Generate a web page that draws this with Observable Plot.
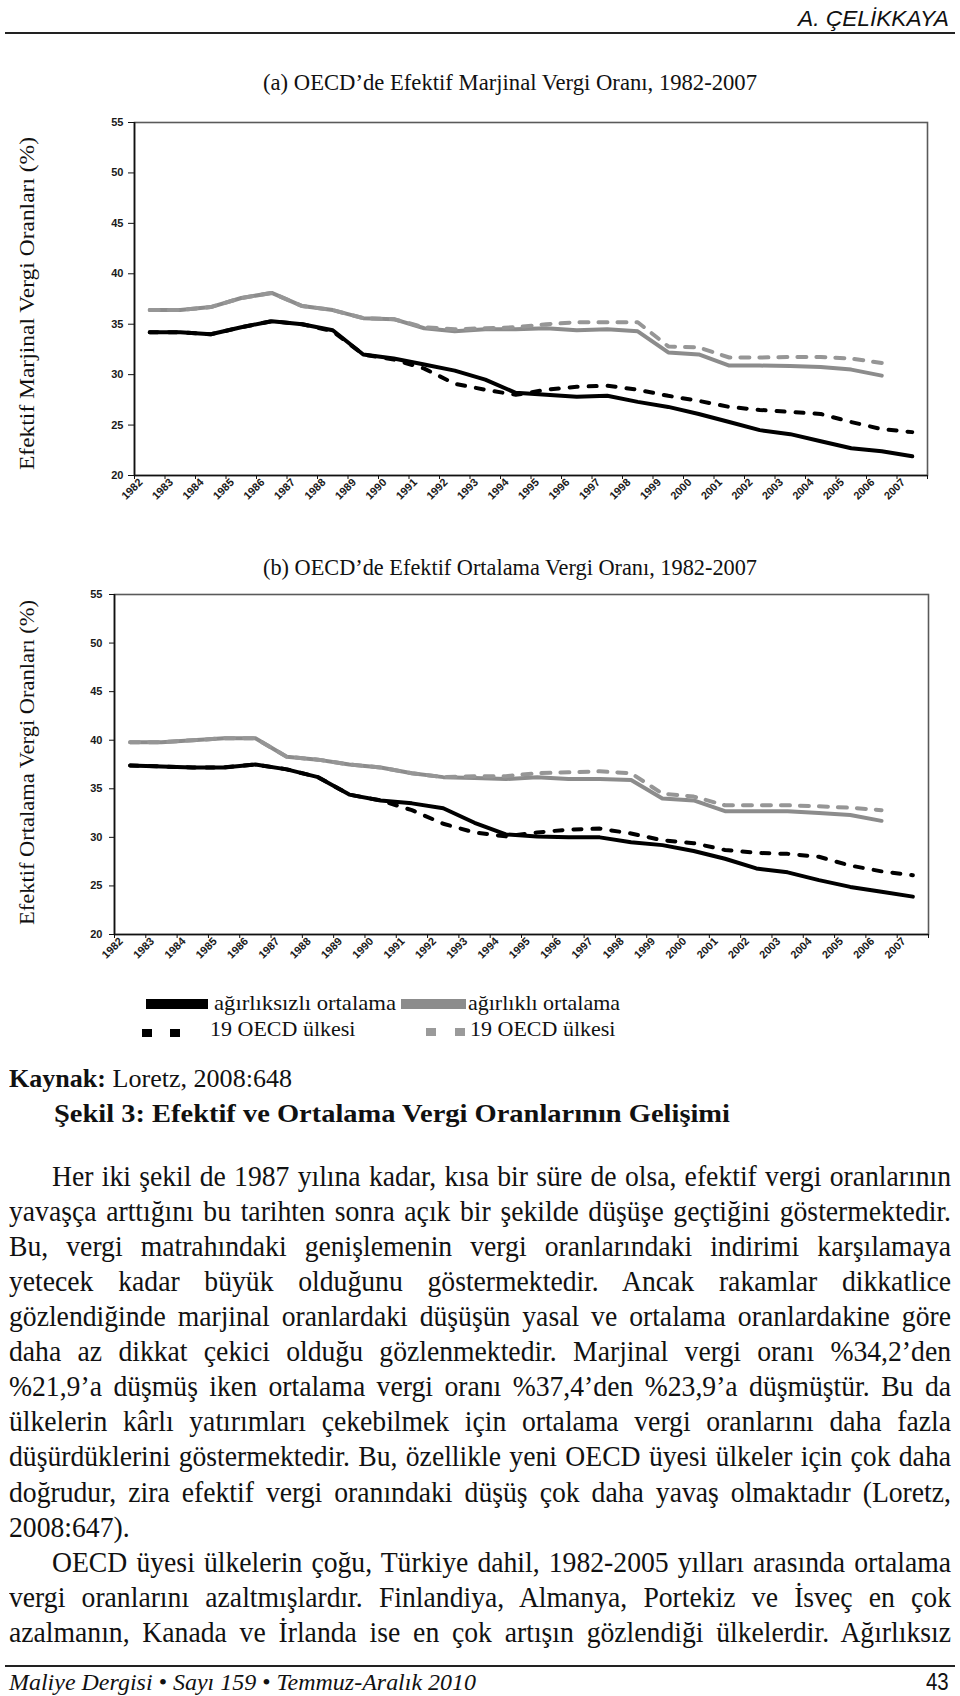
<!DOCTYPE html>
<html><head><meta charset="utf-8">
<script src="https://cdn.jsdelivr.net/npm/d3@7"></script>
<script src="https://cdn.jsdelivr.net/npm/@observablehq/plot@0.6"></script>
<style>
html,body{margin:0;padding:0;background:#fff;}
#page{position:relative;width:960px;height:1696px;overflow:hidden;background:#fff;}
.t{position:absolute;white-space:nowrap;line-height:1;transform-origin:0 0;color:#111;}
.box{position:absolute;}
.chart{position:absolute;left:0;}
</style></head><body><div id="page"></div><script>
// ---------- data ----------
const years = [1982,1983,1984,1985,1986,1987,1988,1989,1990,1991,1992,1993,1994,1995,1996,1997,1998,1999,2000,2001,2002,2003,2004,2005,2006,2007];
const yTicks = [20,25,30,35,40,45,50,55];

// (a) Efektif marjinal vergi oranı
const marjinalAgirliksiz   = [34.2,34.2,34.0,34.7,35.3,35.0,34.4,32.0,31.6,31.0,30.4,29.5,28.2,28.0,27.8,27.9,27.3,26.8,26.1,25.3,24.5,24.1,23.4,22.7,22.4,21.9];
const marjinal19Agirliksiz = [34.2,34.2,34.0,34.7,35.3,35.0,34.3,32.0,31.5,30.6,29.1,28.5,28.0,28.5,28.8,28.9,28.5,27.9,27.4,26.8,26.5,26.3,26.1,25.3,24.6,24.3];
const marjinalAgirlikli    = [36.4,36.4,36.7,37.6,38.1,36.8,36.4,35.6,35.5,34.6,34.3,34.5,34.5,34.6,34.4,34.5,34.3,32.2,32.0,30.9,30.9,30.85,30.75,30.5,29.9];
const marjinal19Agirlikli  = [36.4,36.4,36.7,37.6,38.1,36.8,36.4,35.6,35.5,34.7,34.5,34.6,34.7,35.0,35.2,35.2,35.2,32.8,32.7,31.7,31.7,31.75,31.75,31.6,31.15];

// (b) Efektif ortalama vergi oranı
const ortalamaAgirliksiz   = [37.4,37.3,37.2,37.2,37.5,37.0,36.2,34.4,33.8,33.5,33.0,31.5,30.3,30.1,30.0,30.0,29.5,29.2,28.6,27.8,26.8,26.4,25.6,24.9,24.4,23.9];
const ortalama19Agirliksiz = [37.4,37.3,37.2,37.2,37.5,37.0,36.2,34.4,33.8,32.8,31.4,30.5,30.1,30.5,30.8,30.9,30.4,29.7,29.4,28.7,28.4,28.3,28.0,27.1,26.5,26.1];
const ortalamaAgirlikli    = [39.8,39.8,40.0,40.2,40.2,38.3,38.0,37.5,37.2,36.6,36.2,36.1,36.0,36.2,36.0,36.0,35.9,34.0,33.8,32.7,32.7,32.7,32.5,32.3,31.7];
const ortalama19Agirlikli  = [39.8,39.8,40.0,40.2,40.2,38.3,38.0,37.5,37.2,36.6,36.2,36.3,36.3,36.6,36.7,36.8,36.6,34.5,34.2,33.3,33.3,33.3,33.2,33.05,32.8];

// ---------- texts ----------
const headerText = "A. ÇELİKKAYA";
const titleA = "(a) OECD’de Efektif Marjinal Vergi Oranı, 1982-2007";
const titleB = "(b) OECD’de Efektif Ortalama Vergi Oranı, 1982-2007";
const yTitleA = "Efektif Marjinal Vergi Oranları (%)";
const yTitleB = "Efektif Ortalama Vergi Oranları (%)";
const legendLabels = ["ağırlıksızlı ortalama", "ağırlıklı ortalama", "19 OECD ülkesi", "19 OECD ülkesi"];
const sourceBold = "Kaynak:";
const sourceText = " Loretz, 2008:648";
const figureCaption = "Şekil 3: Efektif ve Ortalama Vergi Oranlarının Gelişimi";
const bodyLines = [
  "Her iki şekil de 1987 yılına kadar, kısa bir süre de olsa, efektif vergi oranlarının",
  "yavaşça arttığını bu tarihten sonra açık bir şekilde düşüşe geçtiğini göstermektedir.",
  "Bu, vergi matrahındaki genişlemenin vergi oranlarındaki indirimi karşılamaya",
  "yetecek kadar büyük olduğunu göstermektedir. Ancak rakamlar dikkatlice",
  "gözlendiğinde marjinal oranlardaki düşüşün yasal ve ortalama oranlardakine göre",
  "daha az dikkat çekici olduğu gözlenmektedir. Marjinal vergi oranı %34,2’den",
  "%21,9’a düşmüş iken ortalama vergi oranı %37,4’den %23,9’a düşmüştür. Bu da",
  "ülkelerin kârlı yatırımları çekebilmek için ortalama vergi oranlarını daha fazla",
  "düşürdüklerini göstermektedir. Bu, özellikle yeni OECD üyesi ülkeler için çok daha",
  "doğrudur, zira efektif vergi oranındaki düşüş çok daha yavaş olmaktadır  (Loretz,",
  "2008:647).",
  "OECD üyesi ülkelerin çoğu, Türkiye dahil, 1982-2005 yılları arasında ortalama",
  "vergi oranlarını azaltmışlardır. Finlandiya, Almanya, Portekiz ve İsveç en çok",
  "azalmanın, Kanada ve İrlanda ise en çok artışın gözlendiği ülkelerdir. Ağırlıksız"
];
const footerText = "Maliye Dergisi • Sayı 159 • Temmuz-Aralık 2010";
const pageNumber = "43";

// ---------- helpers ----------
const page = document.getElementById("page");
const SERIF = "'Liberation Serif','Times New Roman',serif";
const SANS = "'Liberation Sans',Arial,sans-serif";

function txt(content, {x, y, size = 20, family = SERIF, weight = "normal", style = "normal", width = null, scale = null, anchor = "start", html = false}) {
  const el = document.createElement("div");
  el.className = "t";
  if (html) el.innerHTML = content; else el.textContent = content;
  Object.assign(el.style, {fontSize: size + "px", fontFamily: family, fontWeight: weight, fontStyle: style});
  page.appendChild(el);
  const w = el.getBoundingClientRect().width;
  const s = width ? width / w : (scale || 1);
  const W = w * s;
  const left = anchor === "start" ? x : anchor === "end" ? x - W : x - W / 2;
  el.style.left = left + "px";
  el.style.top = (y - 0.84 * size) + "px";
  el.style.transform = `scaleX(${s})`;
  return el;
}
function vtxt(content, {cx, cy, size = 20, family = SERIF, length}) {
  const el = document.createElement("div");
  el.className = "t";
  el.textContent = content;
  Object.assign(el.style, {fontSize: size + "px", fontFamily: family});
  page.appendChild(el);
  const r = el.getBoundingClientRect();
  const s = length / r.width;
  el.style.left = (cx - r.width / 2) + "px";
  el.style.top = (cy - r.height / 2) + "px";
  el.style.transformOrigin = "50% 50%";
  el.style.transform = `rotate(-90deg) scaleX(${s})`;
}
function box(x, y, w, h, color) {
  const el = document.createElement("div");
  el.className = "box";
  Object.assign(el.style, {left: x + "px", top: y + "px", width: w + "px", height: h + "px", background: color});
  page.appendChild(el);
}

// ---------- charts ----------
function toRows(values) { return values.map((v, i) => ({year: years[i], v})); }
function chart(cfg) {
  const halfTicks = years.map(y => y - 0.5).concat([years[years.length - 1] + 0.5]);
  const p = Plot.plot({
    width: 960, height: cfg.height,
    marginTop: cfg.mt, marginBottom: cfg.mb, marginLeft: cfg.ml, marginRight: cfg.mr,
    style: {fontFamily: SANS, fontWeight: "bold", fontSize: "11px", color: "#1a1a1a", background: "transparent", overflow: "visible"},
    x: {type: "linear", domain: [years[0] - 0.5, years[years.length - 1] + 0.5]},
    y: {domain: [20, 55]},
    marks: [
      Plot.frame({stroke: "#5a5a5a", strokeWidth: 1.6}),
      Plot.line(toRows(cfg.gSolid), {x: "year", y: "v", stroke: "#8c8c8c", strokeWidth: 4, strokeLinejoin: "round"}),
      Plot.line(toRows(cfg.gDash), {x: "year", y: "v", stroke: "#969696", strokeWidth: 4, strokeDasharray: "9,10"}),
      Plot.line(toRows(cfg.bSolid), {x: "year", y: "v", stroke: "#000", strokeWidth: 4, strokeLinejoin: "round"}),
      Plot.line(toRows(cfg.bDash), {x: "year", y: "v", stroke: "#000", strokeWidth: 4, strokeDasharray: "8,11"}),
      Plot.ruleX([years[0] - 0.5], {stroke: "#111", strokeWidth: 1.6}),
      Plot.ruleY([20], {stroke: "#111", strokeWidth: 1.6}),
      Plot.axisY({ticks: yTicks, tickSize: cfg.ytick, tickPadding: cfg.ypad, label: null, stroke: "#111", tickFormat: d => String(d)}),
      Plot.axisX({ticks: halfTicks, tickSize: 4, tickFormat: () => "", label: null, stroke: "#111"}),
      Plot.axisX({ticks: years, tickSize: 0, tickPadding: 5, tickRotate: -45, dx: cfg.labelDx, label: null, tickFormat: d => String(d)})
    ]
  });
  p.classList.add("chart");
  p.style.top = cfg.top + "px";
  page.appendChild(p);
}

chart({top: 100, height: 420, mt: 22, mb: 45, ml: 134, mr: 33, ytick: 6, ypad: 5, labelDx: -9,
  bSolid: marjinalAgirliksiz, bDash: marjinal19Agirliksiz, gSolid: marjinalAgirlikli, gDash: marjinal19Agirlikli});
chart({top: 570, height: 420, mt: 24, mb: 56, ml: 114, mr: 32, ytick: 5, ypad: 7, labelDx: -9,
  bSolid: ortalamaAgirliksiz, bDash: ortalama19Agirliksiz, gSolid: ortalamaAgirlikli, gDash: ortalama19Agirlikli});

// ---------- header ----------
txt(headerText, {x: 949, y: 26, size: 22, family: SANS, style: "italic", width: 151, anchor: "end"});
box(5, 32, 950, 2, "#222");

// ---------- chart titles ----------
txt(titleA, {x: 510, y: 90, size: 23, width: 494, anchor: "middle"});
txt(titleB, {x: 510, y: 575, size: 23, width: 494, anchor: "middle"});
vtxt(yTitleA, {cx: 28, cy: 303, size: 21, length: 333});
vtxt(yTitleB, {cx: 28, cy: 762, size: 21, length: 325});

// ---------- legend ----------
box(146, 999, 62, 10, "#000");
txt(legendLabels[0], {x: 214, y: 1010, size: 22, width: 182});
box(401, 999, 65, 10, "#8c8c8c");
txt(legendLabels[1], {x: 468, y: 1010, size: 22, width: 152});
box(142, 1029, 10, 8, "#000");
box(170, 1029, 10, 8, "#000");
txt(legendLabels[2], {x: 210, y: 1036, size: 22});
box(426, 1028, 10, 8, "#9a9a9a");
box(455, 1028, 10, 8, "#9a9a9a");
txt(legendLabels[3], {x: 470, y: 1036, size: 22});

// ---------- source & caption ----------
txt(`<b>${sourceBold}</b>${sourceText}`, {x: 9, y: 1088, size: 26, width: 283, html: true});
txt(figureCaption, {x: 54, y: 1123, size: 26, weight: "bold", width: 676});

// ---------- body text ----------
(function () {
  const F = 29, L = 9, R = 951, IND = 52, base0 = 1186, lh = 35.1;
  const indented = new Set([0, 11]);
  const ragged = new Set([10]);
  const els = bodyLines.map(s => {
    const el = document.createElement("div");
    el.className = "t";
    el.textContent = s;
    Object.assign(el.style, {fontSize: F + "px", fontFamily: SERIF});
    page.appendChild(el);
    return el;
  });
  const nat = els.map(e => e.getBoundingClientRect().width);
  let k = 1;
  bodyLines.forEach((s, i) => {
    if (ragged.has(i)) return;
    const avail = R - (indented.has(i) ? IND : L);
    k = Math.min(k, avail / nat[i]);
  });
  k *= 0.985;
  els.forEach((el, i) => {
    const start = indented.has(i) ? IND : L;
    const avail = R - start;
    if (!ragged.has(i)) {
      const spaces = bodyLines[i].trim().split(/\s+/).length - 1;
      const extra = (avail / k - nat[i]) / spaces;
      el.style.wordSpacing = extra + "px";
    }
    el.style.left = start + "px";
    el.style.top = (base0 + lh * i - 0.84 * F) + "px";
    el.style.transform = `scaleX(${k})`;
  });
})();

// ---------- footer ----------
box(5, 1665, 950, 2, "#222");
txt(footerText, {x: 9, y: 1690, size: 24, style: "italic", width: 467});
txt(pageNumber, {x: 949, y: 1690, size: 24, family: SANS, anchor: "end", scale: 0.85});
</script></body></html>
